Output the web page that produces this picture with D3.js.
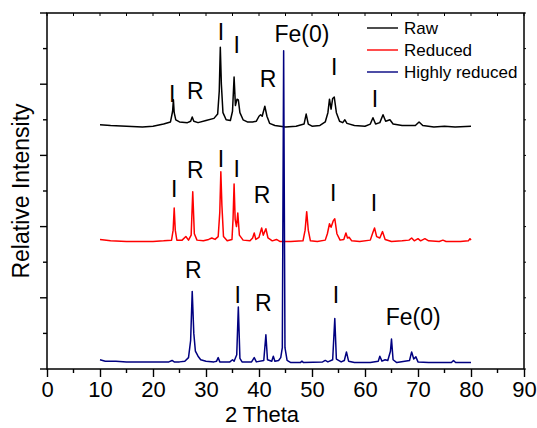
<!DOCTYPE html>
<meta charset="UTF-8">
<style>
body { margin: 0; background: #fff; }
text { font-family: "Liberation Sans", Arial, sans-serif; fill: #000; }
.trace { fill: none; stroke-width: 1.5px; stroke-linejoin: round; }
</style>
<body>
<script src="https://d3js.org/d3.v7.min.js"></script>
<script>

// XRD traces: [2 theta, relative intensity (offset)]
var raw = [[10,3.43],[12,3.42],[15,3.41],[18,3.40],[20,3.41],[22,3.44],[23.3,3.47],[23.7,3.62],[23.85,3.78],[24.0,3.60],[24.3,3.50],[25,3.47],[26.5,3.46],[27.1,3.48],[27.4,3.54],[27.7,3.48],[28.5,3.46],[30,3.49],[31.5,3.52],[32.2,3.58],[32.5,3.90],[32.7,4.52],[32.9,4.00],[33.2,3.60],[33.8,3.50],[34.6,3.49],[35.0,3.62],[35.3,4.10],[35.55,3.70],[35.85,3.79],[36.1,3.78],[36.4,3.60],[37,3.50],[37.8,3.47],[38.8,3.47],[39.5,3.48],[40.0,3.55],[40.3,3.57],[40.6,3.55],[41.1,3.69],[41.5,3.55],[42,3.45],[43,3.42],[45,3.40],[47,3.41],[48.5,3.44],[48.9,3.58],[49.3,3.44],[50,3.41],[51.5,3.42],[52.5,3.47],[53.0,3.60],[53.3,3.79],[53.6,3.65],[53.9,3.80],[54.2,3.82],[54.6,3.60],[55.2,3.48],[55.8,3.46],[56.2,3.50],[56.6,3.45],[58,3.42],[60,3.41],[61.0,3.44],[61.5,3.53],[62,3.44],[62.8,3.46],[63.4,3.57],[63.9,3.48],[64.7,3.50],[65.3,3.44],[67,3.42],[69.5,3.42],[70.2,3.47],[70.9,3.42],[73,3.40],[75,3.41],[77,3.40],[80,3.41]];

var reduced = [[10,1.82],[12,1.80],[15,1.79],[18,1.79],[20,1.79],[22,1.80],[23.5,1.81],[23.8,1.95],[24.0,2.26],[24.2,1.95],[24.5,1.81],[25.5,1.81],[26.2,1.86],[26.7,1.81],[27.2,1.88],[27.5,2.49],[27.8,1.90],[28.3,1.81],[29.5,1.80],[30.5,1.82],[31.1,1.84],[31.7,1.82],[32.3,1.86],[32.6,2.20],[32.8,2.77],[33.0,2.30],[33.3,1.86],[34,1.80],[34.9,1.82],[35.1,2.10],[35.3,2.60],[35.5,2.10],[35.75,2.00],[36.0,2.19],[36.3,1.88],[37,1.81],[38.3,1.80],[38.8,1.84],[39.1,1.91],[39.4,1.82],[40.0,1.85],[40.5,1.98],[40.8,1.88],[41.3,1.97],[41.7,1.84],[42.5,1.80],[43.3,1.82],[44,1.79],[46,1.79],[48.3,1.80],[48.7,1.95],[49.0,2.21],[49.3,1.95],[49.7,1.80],[51,1.79],[52.5,1.81],[52.9,1.90],[53.3,2.04],[53.6,1.99],[54.0,2.08],[54.3,2.11],[54.7,1.90],[55.3,1.81],[56.0,1.82],[56.4,1.91],[56.7,1.84],[57.0,1.85],[57.5,1.80],[59,1.79],[61.0,1.81],[61.5,1.92],[61.8,1.98],[62.2,1.86],[62.8,1.84],[63.3,1.93],[63.8,1.82],[65,1.79],[67,1.80],[68.3,1.81],[68.8,1.84],[69.3,1.80],[70.0,1.83],[70.5,1.80],[71.3,1.83],[72,1.80],[74,1.79],[74.7,1.81],[75.3,1.79],[78,1.79],[79.5,1.80],[79.8,1.83],[80,1.81]];

var highly = [[10,0.13],[11,0.11],[13,0.11],[15,0.10],[18,0.10],[20,0.10],[23,0.10],[23.6,0.12],[24,0.10],[25,0.10],[26,0.11],[26.7,0.16],[27.1,0.40],[27.4,1.09],[27.7,0.50],[28.0,0.25],[28.5,0.18],[29,0.13],[30,0.11],[31.5,0.10],[32.0,0.11],[32.3,0.16],[32.6,0.10],[34.5,0.10],[35.0,0.13],[35.3,0.11],[35.8,0.20],[36.1,0.87],[36.4,0.15],[36.8,0.10],[38.6,0.10],[39.1,0.16],[39.5,0.10],[40.9,0.12],[41.3,0.48],[41.6,0.13],[42.4,0.11],[42.7,0.18],[43.0,0.11],[43.7,0.12],[44.1,0.16],[44.4,0.30],[44.65,4.47],[44.9,0.30],[45.3,0.12],[46,0.09],[47.8,0.09],[48.1,0.11],[48.4,0.09],[52,0.10],[52.5,0.12],[53,0.10],[53.9,0.13],[54.3,0.71],[54.6,0.14],[55.5,0.10],[56.1,0.12],[56.5,0.24],[56.9,0.11],[58,0.09],[61,0.09],[62.5,0.11],[62.8,0.18],[63.2,0.11],[63.8,0.13],[64.3,0.12],[64.8,0.25],[65.0,0.42],[65.3,0.13],[66,0.09],[68.4,0.12],[68.8,0.24],[69.2,0.14],[69.6,0.17],[70,0.10],[72,0.09],[76.3,0.09],[76.7,0.12],[77.1,0.09],[78,0.09],[80,0.09]];

var seriesNames = ["Raw", "Reduced", "Highly reduced"];
var seriesColors = ["#000000", "#ff0000", "#000080"];

// peak labels: [text, 2 theta, intensity at baseline of text]
var labels = [
  ["I", 23.6, 3.75], ["R", 28.0, 3.79], ["I", 32.8, 4.62], ["I", 35.8, 4.44], ["R", 41.7, 3.96],
  ["Fe(0)", 48.1, 4.59], ["I", 54.2, 4.13], ["I", 61.9, 3.68],
  ["I", 24.0, 2.42], ["R", 28.0, 2.68], ["I", 32.8, 2.84], ["I", 35.8, 2.70], ["R", 40.6, 2.33],
  ["I", 54.0, 2.36], ["I", 61.7, 2.22],
  ["R", 27.6, 1.28], ["I", 36.0, 0.93], ["R", 40.8, 0.81], ["I", 54.5, 0.92], ["Fe(0)", 69.1, 0.62]
];

var xTicks = [0, 10, 20, 30, 40, 50, 60, 70, 80, 90];

var W = 537, H = 428;
var margin = {top: 13, right: 13, bottom: 59, left: 47};

var svg = d3.select("body").append("svg")
    .attr("width", W)
    .attr("height", H);

var x = d3.scaleLinear().domain([0, 90]).range([margin.left, W - margin.right]);
var y = d3.scaleLinear().domain([0, 5]).range([H - margin.bottom, margin.top]);

var halfSteps = d3.range(0, 5.01, 0.5);
var fiveSteps = d3.range(0, 90.01, 5);

// bottom axis
var bottom = svg.append("g")
    .attr("transform", "translate(0," + y(0) + ")")
    .call(d3.axisBottom(x).tickValues(xTicks).tickSize(8).tickPadding(4));
bottom.select(".domain").remove();
bottom.selectAll("text").attr("font-size", 22).attr("font-family", "Liberation Sans, Arial, sans-serif");
bottom.selectAll("line").attr("stroke-width", 1.4);
svg.append("g").selectAll("line")
    .data(fiveSteps.filter(function(d) { return d % 10 !== 0; }))
    .join("line")
    .attr("x1", function(d) { return x(d); }).attr("x2", function(d) { return x(d); })
    .attr("y1", y(0)).attr("y2", y(0) + 4)
    .attr("stroke", "#000").attr("stroke-width", 1.4);

// top ticks (inward)
svg.append("g").selectAll("line")
    .data(fiveSteps)
    .join("line")
    .attr("x1", function(d) { return x(d); }).attr("x2", function(d) { return x(d); })
    .attr("y1", y(5)).attr("y2", y(5) + 3)
    .attr("stroke", "#000").attr("stroke-width", 1);

// left axis, no labels
svg.append("g").selectAll("line")
    .data(halfSteps)
    .join("line")
    .attr("x1", x(0))
    .attr("x2", function(d) { return d % 1 === 0 ? x(0) - 7 : x(0) - 4; })
    .attr("y1", function(d) { return y(d); }).attr("y2", function(d) { return y(d); })
    .attr("stroke", "#000").attr("stroke-width", 1.4);

// right ticks
svg.append("g").selectAll("line")
    .data(halfSteps)
    .join("line")
    .attr("x1", x(90)).attr("x2", x(90) + 2)
    .attr("y1", function(d) { return y(d); }).attr("y2", function(d) { return y(d); })
    .attr("stroke", "#000").attr("stroke-width", 1);

// frame
svg.append("rect")
    .attr("x", x(0)).attr("y", y(5))
    .attr("width", x(90) - x(0)).attr("height", y(0) - y(5))
    .attr("fill", "none").attr("stroke", "#000").attr("stroke-width", 1.5);

// traces
var line = d3.line()
    .x(function(d) { return x(d[0]); })
    .y(function(d) { return y(d[1]); });

[raw, reduced, highly].forEach(function(s, i) {
  svg.append("path")
      .datum(s)
      .attr("class", "trace")
      .attr("stroke", seriesColors[i])
      .attr("d", line);
});

// peak labels
svg.append("g").selectAll("text")
    .data(labels)
    .join("text")
    .attr("x", function(d) { return x(d[1]); })
    .attr("y", function(d) { return y(d[2]); })
    .attr("text-anchor", "middle")
    .attr("font-size", 23)
    .text(function(d) { return d[0]; });

// legend
var legend = svg.append("g").selectAll("g")
    .data(seriesNames)
    .join("g")
    .attr("transform", function(d, i) { return "translate(367," + (28 + i * 22) + ")"; });
legend.append("line")
    .attr("x1", 0).attr("x2", 31)
    .attr("stroke", function(d, i) { return seriesColors[i]; })
    .attr("stroke-width", 1.4);
legend.append("text")
    .attr("x", 37).attr("dy", "0.35em")
    .attr("font-size", 17)
    .text(function(d) { return d; });

// axis titles
svg.append("text")
    .attr("x", 262)
    .attr("y", 422)
    .attr("text-anchor", "middle")
    .attr("font-size", 22)
    .text("2 Theta");

svg.append("text")
    .attr("transform", "translate(29," + ((y(0) + y(5)) / 2) + ") rotate(-90)")
    .attr("text-anchor", "middle")
    .attr("font-size", 23)
    .text("Relative Intensity");

</script>
</body>
